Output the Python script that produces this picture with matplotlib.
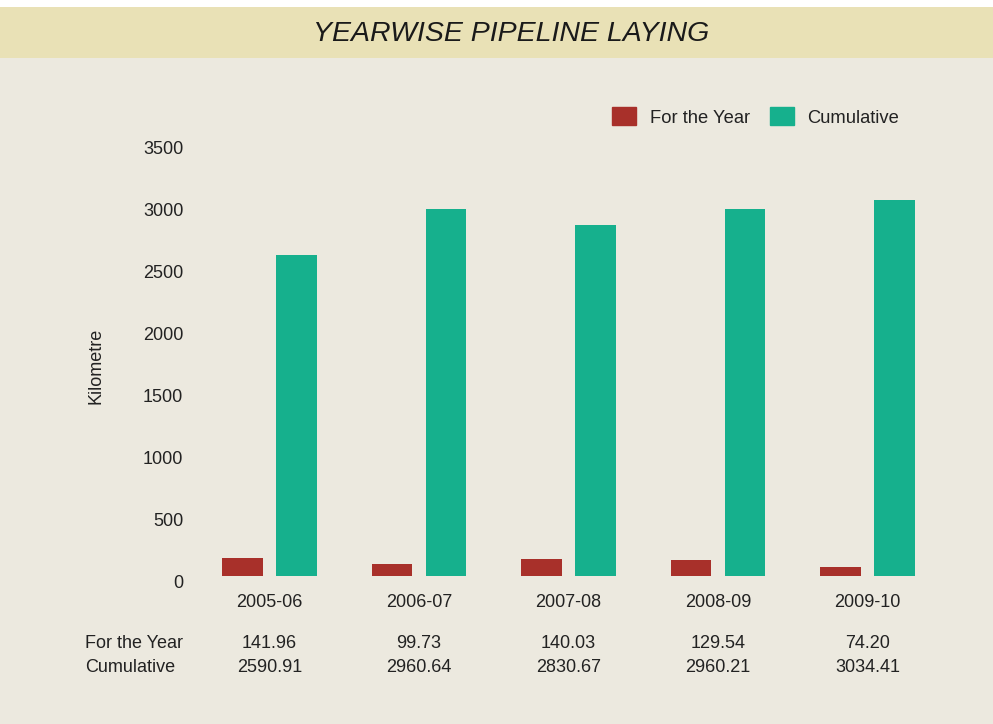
import matplotlib
matplotlib.use("Agg")
import matplotlib.pyplot as plt
from matplotlib.patches import Rectangle, Patch
from matplotlib.transforms import ScaledTranslation
import numpy as np

years = ["2005-06", "2006-07", "2007-08", "2008-09", "2009-10"]
for_the_year = [141.96, 99.73, 140.03, 129.54, 74.20]
cumulative = [2590.91, 2960.64, 2830.67, 2960.21, 3034.41]
for_year_labels = ["141.96", "99.73", "140.03", "129.54", "74.20"]
cum_labels = ["2590.91", "2960.64", "2830.67", "2960.21", "3034.41"]
yticks = [0, 500, 1000, 1500, 2000, 2500, 3000, 3500]

RED = "#a8302a"
TEAL = "#16b08d"
BG = "#ece9df"
BAND = "#e9e1b6"

plt.rcParams['font.family'] = ['Liberation Sans', 'DejaVu Sans']

W, H = 993, 724
fig = plt.figure(figsize=(W / 100, H / 100), dpi=100)
fig.patch.set_facecolor(BG)

# title band
fig.add_artist(Rectangle((0, 1 - 58 / H), 1, 51 / H, transform=fig.transFigure,
                         facecolor=BAND, edgecolor='none', zorder=0))
fig.add_artist(Rectangle((0, 1 - 7 / H), 1, 7 / H, transform=fig.transFigure,
                         facecolor='white', edgecolor='none', zorder=0))
fig.text(511 / W, 1 - 34 / H, "YEARWISE PIPELINE LAYING", ha='center', va='center',
         fontsize=20.5, style='italic', color='#1a1a1a')

left, right = 200, 940
bottom, top = 576, 142
ax = fig.add_axes([left / W, 1 - bottom / H, (right - left) / W, (bottom - top) / H])
ax.set_facecolor('none')

x = np.arange(len(years))
spacing = 149.5
x0 = -(269.5 - left) / spacing
ax.set_xlim(x0, x0 + (right - left) / spacing)
ax.set_ylim(0, 3500)

bw = 0.27
off = 0.18
ax.bar(x - off, for_the_year, bw, color=RED, label="For the Year")
ax.bar(x + off, cumulative, bw, color=TEAL, label="Cumulative")

for s in ax.spines.values():
    s.set_visible(False)
ax.set_yticks(yticks)
ax.set_yticklabels([str(v) for v in yticks])
ax.set_xticks(x)
ax.set_xticklabels(years)
ax.tick_params(axis='both', length=0, labelsize=13, colors='#222222')
ax.tick_params(axis='y', pad=12)
ax.tick_params(axis='x', pad=13)
shift = ScaledTranslation(0, -5.5 / 100, fig.dpi_scale_trans)
for lab in ax.get_yticklabels():
    lab.set_transform(lab.get_transform() + shift)
ax.set_ylabel("Kilometre", fontsize=13, color='#222222')
ax.yaxis.set_label_coords((104 - left) / (right - left), (bottom - 366) / (bottom - top))

# table below
trans = ax.get_xaxis_transform()
y1 = (bottom - 643) / (bottom - top)
y2 = (bottom - 668) / (bottom - top)
for xi, a, c in zip(x, for_year_labels, cum_labels):
    ax.text(xi, y1, a, transform=trans, ha='center', va='center', fontsize=13, color='#222222')
    ax.text(xi, y2, c, transform=trans, ha='center', va='center', fontsize=13, color='#222222')
fig.text(85 / W, 1 - 643 / H, "For the Year", ha='left', va='center', fontsize=13, color='#222222')
fig.text(85 / W, 1 - 668 / H, "Cumulative", ha='left', va='center', fontsize=13, color='#222222')

leg = fig.legend(handles=[Patch(color=RED), Patch(color=TEAL)],
                 labels=["For the Year", "Cumulative"], ncol=2, frameon=False,
                 loc='center left', bbox_to_anchor=(612 / W, 1 - 117 / H),
                 fontsize=13.2, handlelength=1.3, handleheight=1.1,
                 handletextpad=0.75, columnspacing=1.1, borderaxespad=0, borderpad=0)
for t in leg.get_texts():
    t.set_color('#222222')

fig.savefig("out.png", dpi=100, facecolor=fig.get_facecolor())
